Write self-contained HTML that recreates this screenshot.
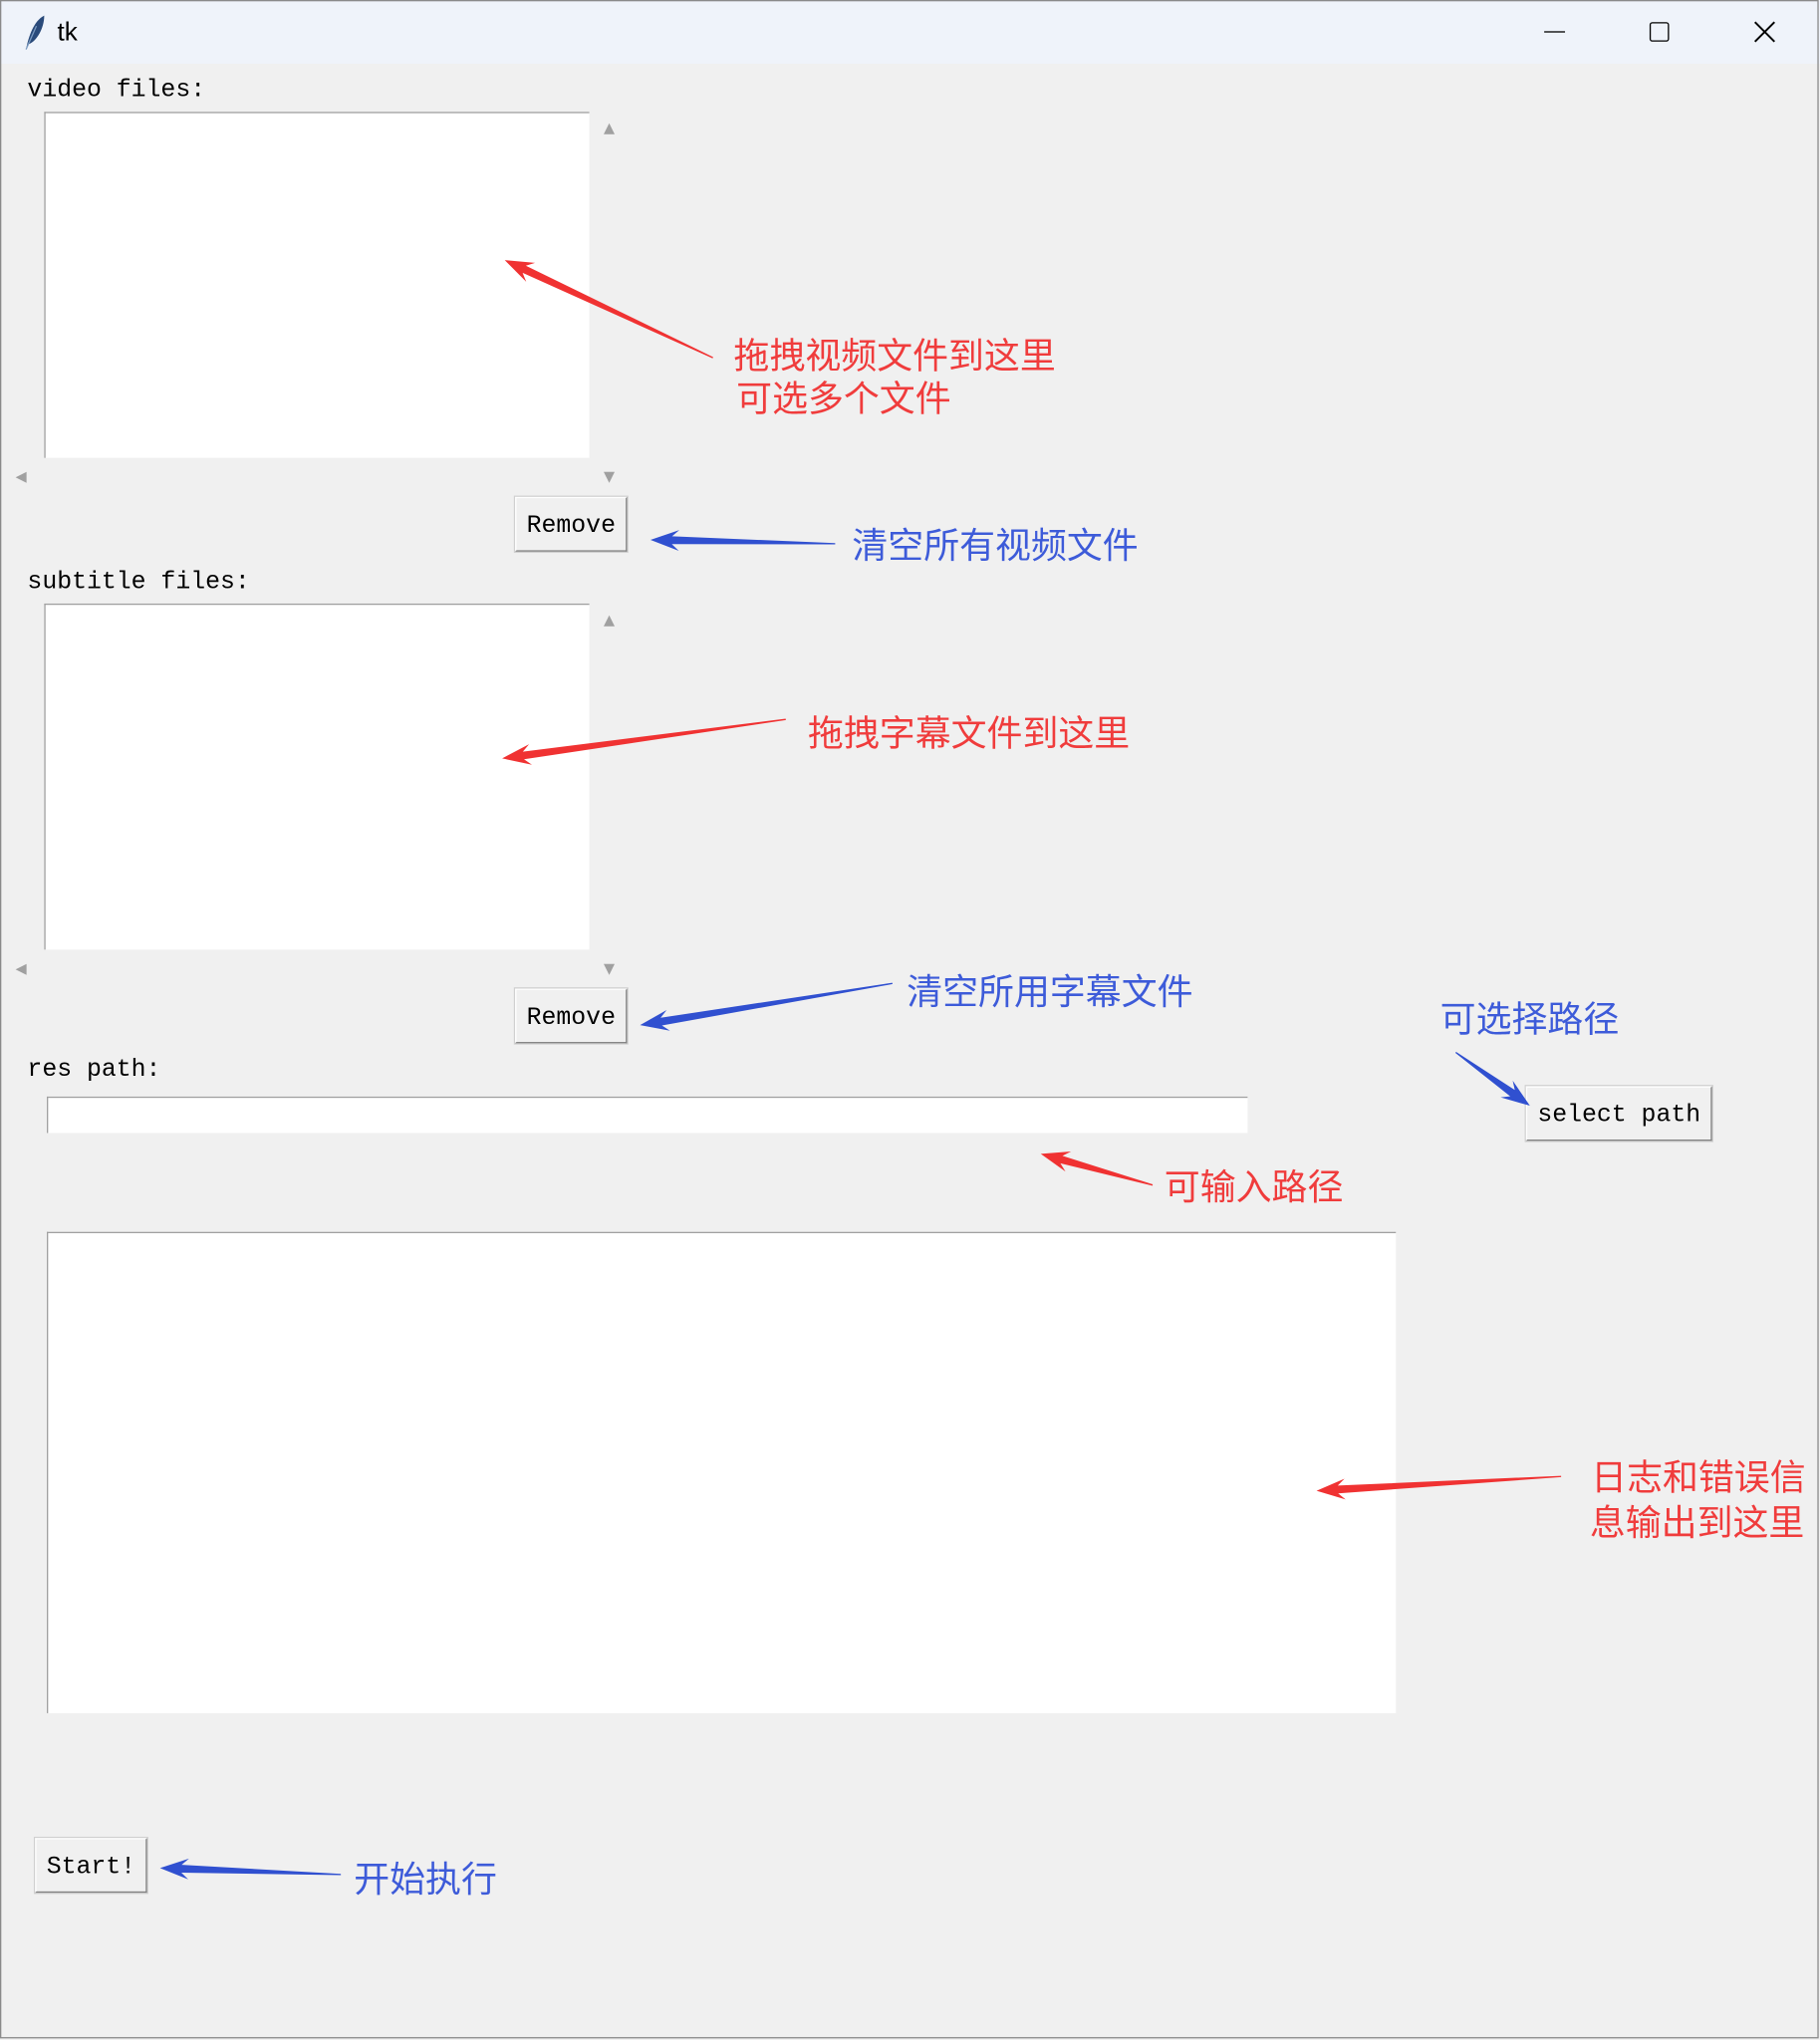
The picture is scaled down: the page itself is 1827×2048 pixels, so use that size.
<!DOCTYPE html>
<html><head><meta charset="utf-8">
<style>
html,body{margin:0;padding:0;width:1827px;height:2048px;overflow:hidden;background:#f0f0f0;}
#w{position:absolute;left:0;top:0;width:1399px;height:1568px;transform:scale(1.30593);transform-origin:0 0;background:#f0f0f0;font-family:"Liberation Mono",monospace;}
.a{position:absolute;}
.mono{font-family:"Liberation Mono",monospace;font-size:19px;color:#000;}
.box{position:absolute;background:#fff;border-left:1px solid #a0a0a0;border-top:1px solid #a0a0a0;}
.btn{position:absolute;background:#f0f0f0;border:1px solid #fff;border-right:1px solid #808080;border-bottom:1px solid #808080;box-shadow:0 0 0 1px #d0d0d0;font-family:"Liberation Mono",monospace;font-size:19px;display:flex;align-items:center;justify-content:center;box-sizing:border-box;padding-top:2px;}
.cj{position:absolute;font-family:"Liberation Sans","Noto Sans CJK SC",sans-serif;font-size:27.5px;line-height:33px;white-space:nowrap;}
.r{color:#f03c3c}.b{color:#3d5bd9}
.arr{position:absolute;font-size:11px;color:#a0a0a0;font-family:"DejaVu Sans",sans-serif;}
</style></head><body>
<div id="w">
<div class="a" style="left:0;top:0;width:1399px;height:49px;background:#eff3fa;"></div>
<div class="a" style="left:0;top:0;width:1398px;height:1567px;border:1px solid #8a8a8a;box-sizing:border-box;"></div>
<svg class="a" style="left:14px;top:10px" width="24" height="30"><path d="M6 28 C8 18 12 6 20 2 C20 12 14 22 8 24 Z" fill="#2a4a7a"/><path d="M6 28 L14 10" stroke="#7a9ac0" stroke-width="1"/></svg>
<div class="a" style="left:44px;top:14px;font-family:'Liberation Sans',sans-serif;font-size:20px;">tk</div>
<div class="a" style="left:1187px;top:24px;width:16px;height:1px;background:#000"></div>
<div class="a" style="left:1268px;top:17px;width:13px;height:13px;border:1.5px solid #000;border-radius:2px"></div>
<svg class="a" style="left:1348px;top:16px" width="17" height="17"><path d="M1 1L16 16M16 1L1 16" stroke="#000" stroke-width="1.5"/></svg>

<div class="a mono" style="left:21px;top:58px">video files:</div>
<div class="box" style="left:34px;top:86px;width:418px;height:265px"></div>
<div class="arr" style="left:464px;top:92px">▲</div><div class="arr" style="left:464px;top:360px">▼</div><div class="arr" style="left:12px;top:360px">◀</div>
<div class="btn" style="left:396px;top:382px;width:86px;height:42px">Remove</div>

<div class="a mono" style="left:21px;top:436px">subtitle files:</div>
<div class="box" style="left:34px;top:464px;width:418px;height:265px"></div>
<div class="arr" style="left:464px;top:470px">▲</div><div class="arr" style="left:464px;top:738px">▼</div><div class="arr" style="left:12px;top:738px">◀</div>
<div class="btn" style="left:396px;top:760px;width:86px;height:42px">Remove</div>

<div class="a mono" style="left:21px;top:811px">res path:</div>
<div class="box" style="left:36px;top:843px;width:922px;height:27px"></div>
<div class="btn" style="left:1173px;top:835px;width:143px;height:42px">select path</div>
<div class="box" style="left:36px;top:947px;width:1036px;height:369px"></div>
<div class="btn" style="left:27px;top:1413px;width:86px;height:42px">Start!</div>

<div class="cj r" style="left:564px;top:257px">拖拽视频文件到这里</div>
<div class="cj r" style="left:566px;top:290px">可选多个文件</div>
<div class="cj b" style="left:655px;top:403px">清空所有视频文件</div>
<div class="cj r" style="left:621px;top:547px">拖拽字幕文件到这里</div>
<div class="cj b" style="left:697px;top:746px">清空所用字幕文件</div>
<div class="cj b" style="left:1107px;top:767px">可选择路径</div>
<div class="cj r" style="left:895px;top:896px">可输入路径</div>
<div class="cj r" style="left:1223px;top:1119px">日志和错误信</div>
<div class="cj r" style="left:1222px;top:1154px">息输出到这里</div>
<div class="cj b" style="left:272px;top:1428px">开始执行</div>

<svg id="s" class="a" style="left:0;top:0" width="1399" height="1568"></svg>
</div>
<script>
var R="#f03232",B="#3050d0";
var A=[[548,275,388,200,R],[642,418,500,415,B],[604,553,386,583,R],[686,756,492,788,B],[1119,809,1176,850,B],[886,911,800,887,R],[1200,1135,1012,1146,R],[262,1441,123,1436,B]];
var h="";
A.forEach(function(a){var x1=a[0],y1=a[1],x2=a[2],y2=a[3];var dx=x2-x1,dy=y2-y1,L=Math.hypot(dx,dy),ux=dx/L,uy=dy/L,px=-uy,py=ux;
var hl=Math.min(22,L*0.4),bx=x2-ux*hl,by=y2-uy*hl,nx=x2-ux*hl*0.75,ny=y2-uy*hl*0.75;
var p=[[x1+px*0.5,y1+py*0.5],[nx+px*3,ny+py*3],[bx+px*8,by+py*8],[x2,y2],[bx-px*8,by-py*8],[nx-px*3,ny-py*3],[x1-px*0.5,y1-py*0.5]];
h+='<polygon fill="'+a[4]+'" points="'+p.map(function(q){return q[0].toFixed(1)+","+q[1].toFixed(1)}).join(" ")+'"/>';});
document.getElementById("s").innerHTML=h;
</script>
</body></html>
